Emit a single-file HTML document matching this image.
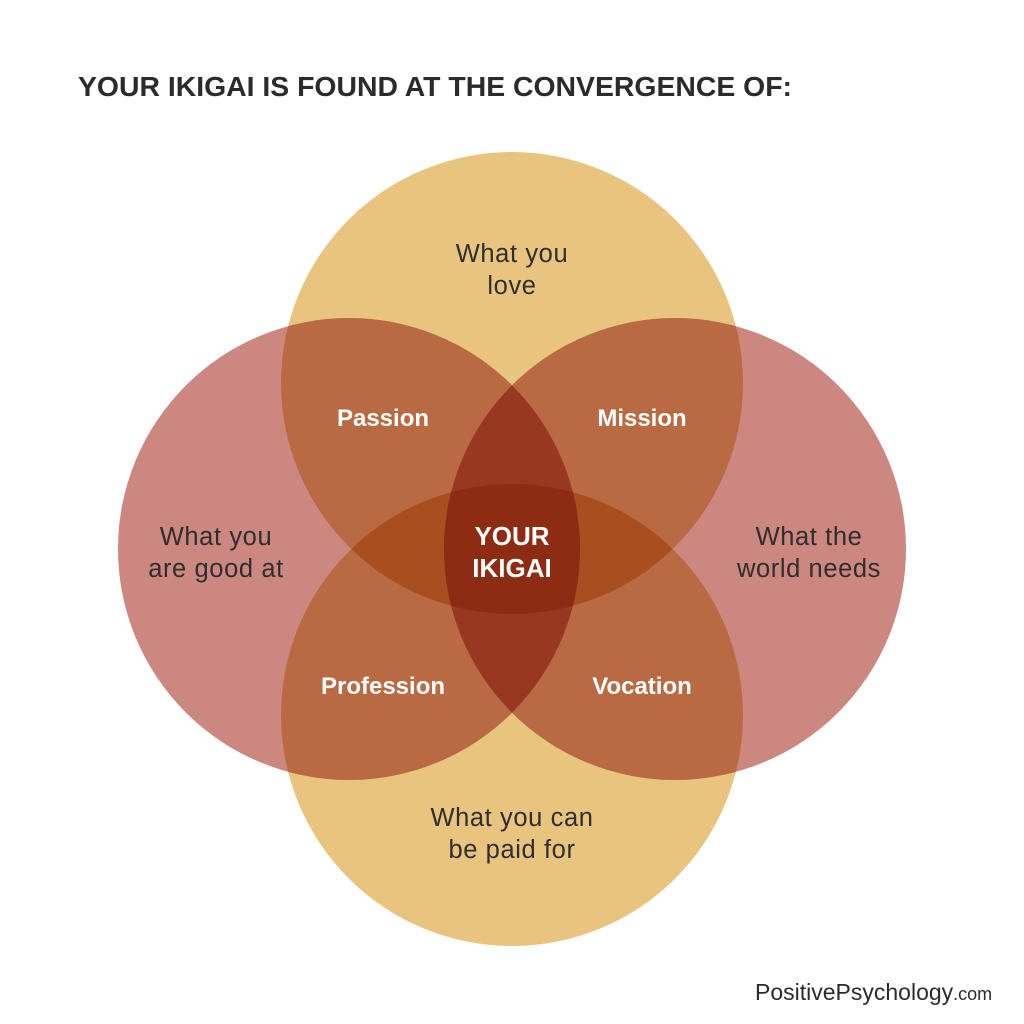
<!DOCTYPE html>
<html><head><meta charset="utf-8"><style>
html,body{margin:0;padding:0;background:#fff;}
svg{display:block}
text{font-family:"Liberation Sans",sans-serif;}
</style></head><body>
<svg width="1024" height="1024" viewBox="0 0 1024 1024" xmlns="http://www.w3.org/2000/svg">
<defs>
<clipPath id="T"><circle cx="512" cy="383" r="231"/></clipPath>
<clipPath id="B"><circle cx="512" cy="715" r="231"/></clipPath>
<clipPath id="L"><circle cx="349" cy="549" r="231"/></clipPath>
<clipPath id="R"><circle cx="675" cy="549" r="231"/></clipPath>
</defs>
<rect width="1024" height="1024" fill="#fff"/>
<text x="78" y="96" font-size="28" font-weight="bold" fill="#2b2b2b" textLength="714" lengthAdjust="spacingAndGlyphs">YOUR IKIGAI IS FOUND AT THE CONVERGENCE OF:</text>
<circle cx="512" cy="383" r="231" fill="#E8C47E"/>
<circle cx="512" cy="715" r="231" fill="#E8C47E"/>
<circle cx="349" cy="549" r="231" fill="#CC8780"/>
<circle cx="675" cy="549" r="231" fill="#CC8780"/>
<g clip-path="url(#T)"><circle cx="349" cy="549" r="231" fill="#BA6A42"/><circle cx="675" cy="549" r="231" fill="#BA6A42"/></g>
<g clip-path="url(#B)"><circle cx="349" cy="549" r="231" fill="#BA6A42"/><circle cx="675" cy="549" r="231" fill="#BA6A42"/></g>
<g clip-path="url(#T)"><circle cx="512" cy="715" r="231" fill="#A94E1F"/></g>
<g clip-path="url(#L)"><circle cx="675" cy="549" r="231" fill="#983822"/></g>
<g clip-path="url(#L)"><g clip-path="url(#R)"><g clip-path="url(#T)"><circle cx="512" cy="715" r="231" fill="#8D2C12"/></g></g></g>

<g font-size="25.5" fill="#2e2e2e" text-anchor="middle" letter-spacing="0.6">
<text x="512" y="262">What you</text>
<text x="512" y="294">love</text>
<text x="216" y="545">What you</text>
<text x="216" y="577">are good at</text>
<text x="809" y="545">What the</text>
<text x="809" y="577">world needs</text>
<text x="512" y="826">What you can</text>
<text x="512" y="858">be paid for</text>
</g>
<g font-size="24" fill="#fff" text-anchor="middle" font-weight="bold">
<text x="383" y="426">Passion</text>
<text x="642" y="426">Mission</text>
<text x="383" y="694">Profession</text>
<text x="642" y="694">Vocation</text>
<text x="512" y="545" font-size="26">YOUR</text>
<text x="512" y="577" font-size="26">IKIGAI</text>
</g>
<text x="755" y="1000" font-size="23" fill="#2b2b2b">PositivePsychology<tspan font-size="18">.com</tspan></text>
</svg>
</body></html>
